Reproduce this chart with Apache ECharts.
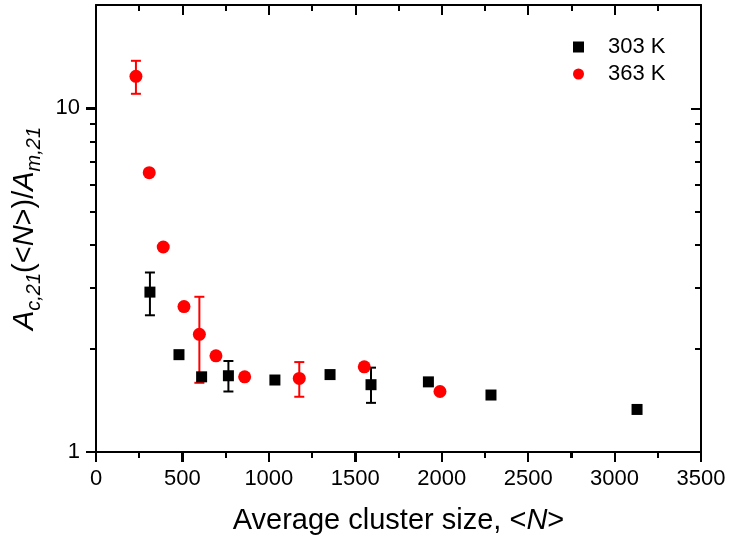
<!DOCTYPE html>
<html>
<head>
<meta charset="utf-8">
<script src="https://cdn.jsdelivr.net/npm/echarts@6/dist/echarts.min.js"></script>
<style>
  html, body { margin: 0; padding: 0; background: #fff; }
  #main { width: 730px; height: 542px; }
</style>
</head>
<body>
<div id="main"></div>
<script>
// 303 K (black squares)
const x303 = [312, 480, 611, 766, 1035, 1354, 1591, 1923, 2285, 3130];
const y303 = [2.92, 1.92, 1.655, 1.667, 1.62, 1.68, 1.57, 1.60, 1.465, 1.33];
const errX303 = [312, 766, 1591];
const errLo303 = [2.50, 1.50, 1.39];
const errHi303 = [3.33, 1.84, 1.76];

// 363 K (red circles)
const x363 = [231, 308, 389, 509, 598, 694, 860, 1176, 1552, 1990];
const y363 = [12.4, 6.50, 3.95, 2.65, 2.20, 1.905, 1.655, 1.637, 1.77, 1.50];
const errX363 = [231, 598, 1176];
const errLo363 = [11.03, 1.59, 1.448];
const errHi363 = [13.76, 2.83, 1.827];

// ticks
const xMajor = [0, 500, 1000, 1500, 2000, 2500, 3000, 3500];
const xMinor = [250, 750, 1250, 1750, 2250, 2750, 3250];
const yMajor = [1, 10];
const yMinor = [2, 3, 4, 5, 6, 7, 8, 9];

const FONT = 'Liberation Sans, Arial, sans-serif';
const MAJOR_LEN = 10;
const MINOR_LEN = 6;

function pairs(xs, ys) {
    return xs.map((x, i) => [x, ys[i]]);
}

function errData(xs, lo, hi) {
    return xs.map((x, i) => [x, lo[i], hi[i]]);
}

function errRender(color) {
    return function (params, api) {
        const x = api.value(0);
        const lo = api.coord([x, api.value(1)]);
        const hi = api.coord([x, api.value(2)]);
        const w = 5;
        const style = { stroke: color, lineWidth: 2 };
        return {
            type: 'group',
            children: [
                { type: 'line', shape: { x1: lo[0], y1: lo[1], x2: hi[0], y2: hi[1] }, style: style },
                { type: 'line', shape: { x1: lo[0] - w, y1: lo[1], x2: lo[0] + w, y2: lo[1] }, style: style },
                { type: 'line', shape: { x1: hi[0] - w, y1: hi[1], x2: hi[0] + w, y2: hi[1] }, style: style }
            ]
        };
    };
}

// outward ticks (left of the y axis, below the x axis), one line per item
// item: [x value, y value, kind (0 = y tick, 1 = x tick), length]
function outTickRender(params, api) {
    const cs = params.coordSys;
    const len = api.value(3);
    const style = { stroke: '#000', lineWidth: 2 };
    if (api.value(2) === 0) {
        const y = Math.round(api.coord([0, api.value(1)])[1]);
        return { type: 'line', shape: { x1: cs.x - len, y1: y, x2: cs.x, y2: y }, style: style };
    }
    const x = Math.round(api.coord([api.value(0), 1])[0]);
    const yb = cs.y + cs.height;
    return { type: 'line', shape: { x1: x, y1: yb, x2: x, y2: yb + len }, style: style };
}

const outTickData = []
    .concat(yMajor.map(v => [0, v, 0, MAJOR_LEN]))
    .concat(yMinor.map(v => [0, v, 0, MINOR_LEN]))
    .concat(xMajor.map(v => [v, 1, 1, MAJOR_LEN]))
    .concat(xMinor.map(v => [v, 1, 1, MINOR_LEN]));

const chart = echarts.init(document.getElementById('main'));

function line() {
    return { show: true, onZero: false, lineStyle: { color: '#000', width: 2 } };
}
function tick(inside, len, values) {
    const t = { show: true, inside: inside, length: len, lineStyle: { color: '#000', width: 2 } };
    if (values) t.customValues = values;
    return t;
}
function xAx(pos, extra) {
    return Object.assign({
        type: 'value', min: 0, max: 3500, interval: 500, position: pos,
        axisLine: { show: false, onZero: false },
        axisTick: { show: false },
        axisLabel: { show: false },
        splitLine: { show: false }
    }, extra);
}
function yAx(pos, extra) {
    return Object.assign({
        type: 'log', min: 1, max: 20, position: pos,
        axisLine: { show: false, onZero: false },
        axisTick: { show: false },
        axisLabel: { show: false },
        splitLine: { show: false }
    }, extra);
}

const option = {
    animation: false,
    grid: { left: 96, right: 29, top: 5, bottom: 90, outerBoundsMode: 'none' },
    legend: {
        orient: 'vertical',
        left: 568,
        top: 31,
        itemWidth: 11,
        itemHeight: 11,
        itemGap: 5,
        textStyle: { fontFamily: FONT, fontSize: 22, color: '#000', padding: [0, 0, 0, 19] },
        data: [
            { name: '303 K', icon: 'rect' },
            { name: '363 K', icon: 'circle' }
        ]
    },
    xAxis: [
        xAx('bottom', {
            name: 'Average cluster size, <{it|N}>',
            nameLocation: 'middle',
            nameGap: 54,
            nameTextStyle: {
                fontFamily: FONT, fontSize: 29, color: '#000',
                rich: { it: { fontFamily: FONT, fontSize: 29, fontStyle: 'italic', color: '#000' } }
            },
            axisLine: line(),
            axisTick: tick(false, MAJOR_LEN, xMajor),
            axisLabel: { show: true, fontFamily: FONT, fontSize: 22, color: '#000', margin: 16, formatter: v => String(v) }
        }),
        xAx('bottom', { axisTick: tick(false, MINOR_LEN, xMinor) }),
        xAx('top', { axisLine: line(), axisTick: tick(true, MAJOR_LEN, xMajor) }),
        xAx('top', { axisTick: tick(true, MINOR_LEN, xMinor) })
    ],
    yAxis: [
        yAx('left', {
            name: '{it|A}{sub|c,21}({lt|<}{it|N}{lt|>})/{it|A}{sub|m,21}',
            nameLocation: 'middle',
            nameRotate: 90,
            nameGap: 46,
            nameTextStyle: {
                fontFamily: FONT, fontSize: 29, color: '#000', lineHeight: 40,
                rich: {
                    it: { fontFamily: FONT, fontSize: 29, fontStyle: 'italic', color: '#000', lineHeight: 40 },
                    lt: { fontFamily: FONT, fontSize: 29, color: '#000', lineHeight: 40 },
                    sub: { fontFamily: FONT, fontSize: 20, fontStyle: 'italic', color: '#000', lineHeight: 20, verticalAlign: 'bottom' }
                }
            },
            axisLine: line(),
            axisTick: tick(false, MAJOR_LEN, yMajor),
            axisLabel: {
                show: true, fontFamily: FONT, fontSize: 22, color: '#000', margin: 16,
                customValues: yMajor,
                formatter: v => String(Math.round(v))
            }
        }),
        yAx('left', { axisTick: tick(false, MINOR_LEN, yMinor) }),
        yAx('right', { axisLine: line(), axisTick: tick(true, MAJOR_LEN, yMajor) }),
        yAx('right', { axisTick: tick(true, MINOR_LEN, yMinor) })
    ],
    series: [
        {
            name: 'outTicks',
            type: 'custom',
            silent: true,
            clip: false,
            renderItem: outTickRender,
            encode: { x: 0, y: 1 },
            data: outTickData,
            z: 5
        },
        {
            name: 'err303',
            type: 'custom',
            silent: true,
            clip: false,
            renderItem: errRender('#000'),
            encode: { x: 0, y: [1, 2] },
            data: errData(errX303, errLo303, errHi303),
            z: 2
        },
        {
            name: 'err363',
            type: 'custom',
            silent: true,
            clip: false,
            renderItem: errRender('#ff0000'),
            encode: { x: 0, y: [1, 2] },
            data: errData(errX363, errLo363, errHi363),
            z: 2
        },
        {
            name: '303 K',
            type: 'scatter',
            symbol: 'rect',
            symbolSize: 11,
            itemStyle: { color: '#000', opacity: 1 },
            data: pairs(x303, y303),
            z: 3
        },
        {
            name: '363 K',
            type: 'scatter',
            symbol: 'circle',
            symbolSize: 13,
            itemStyle: { color: '#ff0000', opacity: 1 },
            data: pairs(x363, y363),
            z: 3
        }
    ]
};

chart.setOption(option);

// same outward ticks once more as graphic lines, placed through the chart's own scales
const origin = chart.convertToPixel({ xAxisIndex: 0, yAxisIndex: 0 }, [0, 1]);
const gx = Math.round(origin[0]);
const gy = Math.round(origin[1]);
const tickLines = [];
const gStyle = { stroke: '#000', lineWidth: 2 };
yMajor.concat(yMinor).forEach(v => {
    const y = Math.round(chart.convertToPixel({ xAxisIndex: 0, yAxisIndex: 0 }, [0, v])[1]);
    const len = yMajor.indexOf(v) >= 0 ? MAJOR_LEN : MINOR_LEN;
    tickLines.push({ type: 'line', silent: true, z: 100, shape: { x1: gx - len, y1: y, x2: gx, y2: y }, style: gStyle });
});
xMajor.concat(xMinor).forEach(v => {
    const x = Math.round(chart.convertToPixel({ xAxisIndex: 0, yAxisIndex: 0 }, [v, 1])[0]);
    const len = xMajor.indexOf(v) >= 0 ? MAJOR_LEN : MINOR_LEN;
    tickLines.push({ type: 'line', silent: true, z: 100, shape: { x1: x, y1: gy, x2: x, y2: gy + len }, style: gStyle });
});
chart.setOption({ graphic: tickLines });

window.addEventListener('resize', () => {
    chart.resize();
});
</script>
</body>
</html>
